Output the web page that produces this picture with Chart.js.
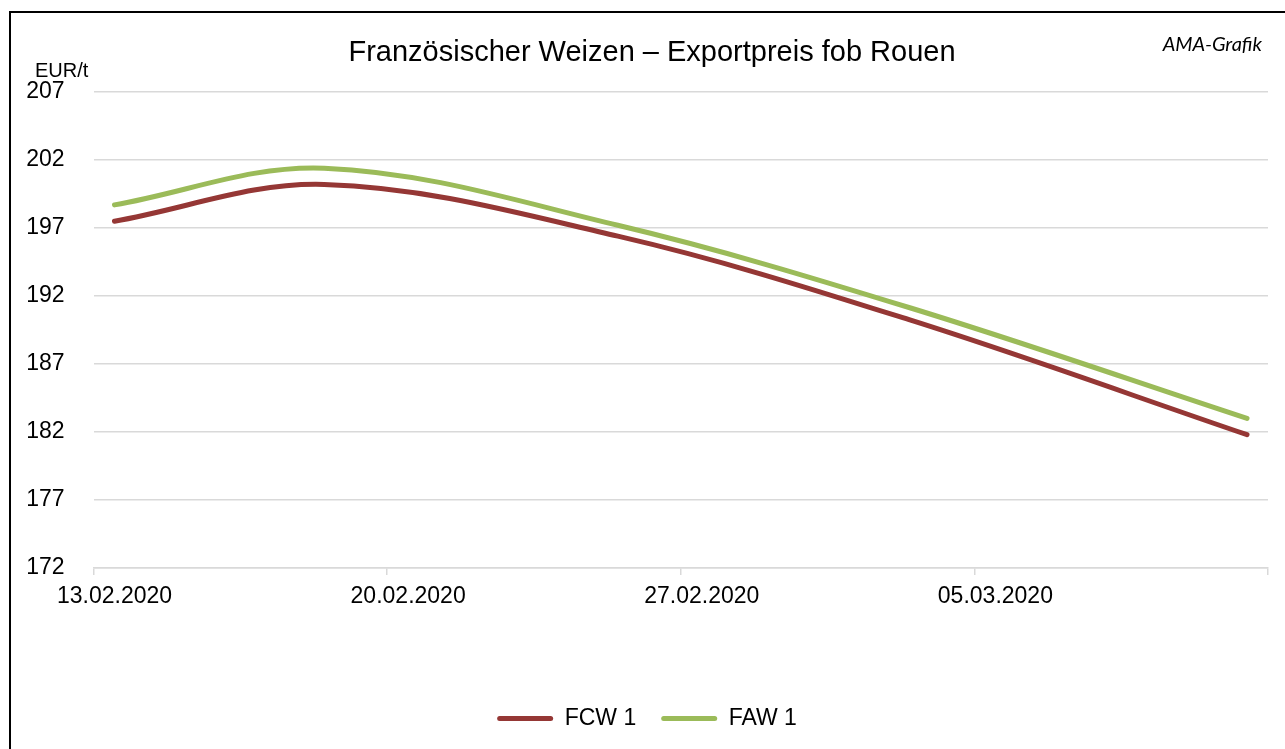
<!DOCTYPE html>
<html>
<head>
<meta charset="utf-8">
<script src="https://cdn.jsdelivr.net/npm/chart.js@4.4.0/dist/chart.umd.min.js"></script>
<style>
  html, body { margin: 0; padding: 0; background: #fff; overflow: hidden; }
  #wrap { position: absolute; left: 0; top: 0; width: 1285px; height: 800px; }
  #frame { position: absolute; left: 9px; top: 11px; width: 1400px; height: 900px;
           border-left: 2px solid #000; border-top: 2px solid #000; pointer-events: none; }
</style>
</head>
<body>
<div id="wrap"><canvas id="myChart" width="1285" height="800"></canvas></div>
<div id="frame"></div>
<script>
// quote dates and prices (EUR/t)
const dates = ['13.02.2020', '18.02.2020', '25.02.2020', '03.03.2020', '11.03.2020'];
const fcw = [197.5, 200.2, 196.4, 190.2, 181.8];
const faw = [198.7, 201.4, 197.2, 191.1, 183.0];

const tickLabels = ['13.02.2020', '20.02.2020', '27.02.2020', '05.03.2020'];
const yMin = 172, yMax = 207, yStep = 5;

function dayNo(s) {
  const [d, m, y] = s.split('.').map(Number);
  return Date.UTC(y, m - 1, d) / 864e5;
}
const start = dayNo(dates[0]);
const lastDay = dayNo(dates[dates.length - 1]) - start;
const tickDays = tickLabels.map(t => dayNo(t) - start - 0.5).concat([lastDay + 0.5]);

const toPoints = vals => dates.map((d, i) => ({ x: dayNo(d) - start, y: vals[i] }));

Chart.defaults.font.family = '"Liberation Sans", Arial, sans-serif';
Chart.defaults.color = '#000';

const texts = {
  id: 'texts',
  afterDraw(chart) {
    const c = chart.ctx;
    c.save();
    c.fillStyle = '#000';
    c.textBaseline = 'alphabetic';
    c.font = '29px "Liberation Sans", Arial, sans-serif';
    c.textAlign = 'center';
    c.fillText('Französischer Weizen – Exportpreis fob Rouen', 652, 61);
    c.font = '20px "Liberation Sans", Arial, sans-serif';
    c.textAlign = 'left';
    c.fillText('EUR/t', 35, 77);
    c.font = 'italic 20px Lato, sans-serif';
    c.textAlign = 'right';
    c.fillText('AMA-Grafik', 1262, 51);
    c.restore();
  }
};

const ctx = document.getElementById('myChart');

new Chart(ctx, {
  type: 'line',
  data: {
    datasets: [
      {
        label: 'FCW 1',
        data: toPoints(fcw),
        borderColor: '#953735',
        backgroundColor: '#953735',
        borderWidth: 5,
        borderCapStyle: 'round',
        tension: 0.35,
        pointRadius: 0
      },
      {
        label: 'FAW 1',
        data: toPoints(faw),
        borderColor: '#9BBB59',
        backgroundColor: '#9BBB59',
        borderWidth: 5,
        borderCapStyle: 'round',
        tension: 0.35,
        pointRadius: 0
      }
    ]
  },
  options: {
    responsive: false,
    animation: false,
    layout: { padding: { top: 92, right: 17, left: 26, bottom: 60 } },
    plugins: {
      tooltip: { enabled: false },
      legend: {
        position: 'bottom',
        labels: {
          font: { size: 23 },
          boxWidth: 56,
          boxHeight: 5,
          padding: 25,
          generateLabels(chart) {
            return chart.data.datasets.map((ds, i) => ({
              text: ds.label,
              fillStyle: ds.borderColor,
              strokeStyle: ds.borderColor,
              lineWidth: 0,
              borderRadius: 2.5,
              datasetIndex: i
            }));
          }
        }
      }
    },
    scales: {
      x: {
        type: 'linear',
        min: -0.5,
        max: lastDay + 0.5,
        afterBuildTicks(scale) {
          scale.ticks = tickDays.map(v => ({ value: v }));
        },
        afterFit(scale) { scale.height = 114; },
        grid: { drawOnChartArea: false, drawTicks: true, tickLength: 7, color: '#d9d9d9', lineWidth: 1.5 },
        border: { display: true, color: '#d9d9d9', width: 1.5 },
        ticks: {
          font: { size: 23 },
          padding: 8,
          labelOffset: 21,
          maxRotation: 0,
          autoSkip: false,
          callback(value) {
            const i = Math.round((value + 0.5) / 7);
            return tickLabels[i] || '';
          }
        }
      },
      y: {
        min: yMin,
        max: yMax,
        afterFit(scale) { scale.width = 67.5; },
        grid: { drawTicks: false, color: '#d9d9d9', lineWidth: 1.5 },
        border: { display: false },
        ticks: { stepSize: yStep, font: { size: 23 }, padding: 29 }
      }
    }
  },
  plugins: [texts]
});
</script>
</body>
</html>
